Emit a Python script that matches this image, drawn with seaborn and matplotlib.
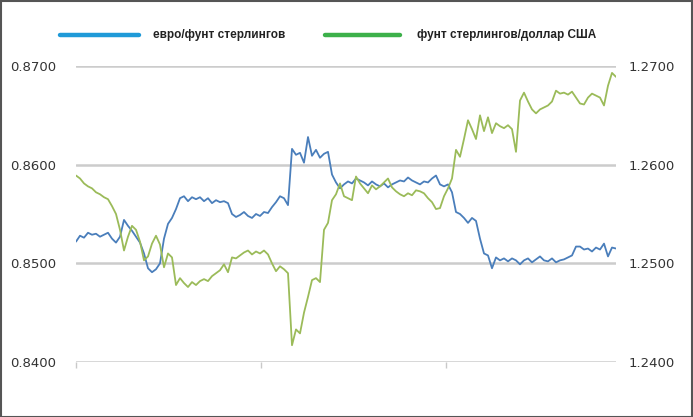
import numpy as np
import pandas as pd
import matplotlib
matplotlib.use("Agg")
import matplotlib.pyplot as plt
from matplotlib.lines import Line2D
from matplotlib.patches import Rectangle
import seaborn as sns

series_names = ["евро/фунт стерлингов", "фунт стерлингов/доллар США"]

eur_gbp = [
    0.8522, 0.8528, 0.8526, 0.8531, 0.8529, 0.8530, 0.8527, 0.8529, 0.8531, 0.8525,
    0.8521, 0.8527, 0.8544, 0.8538, 0.8533, 0.8527, 0.8521, 0.8510, 0.8495, 0.8491,
    0.8494, 0.8500, 0.8525, 0.8540, 0.8546, 0.8555, 0.8566, 0.8568, 0.8563, 0.8567,
    0.8565, 0.8567, 0.8563, 0.8566, 0.8561, 0.8564, 0.8562, 0.8563, 0.8561, 0.8550,
    0.8547, 0.8549, 0.8552, 0.8548, 0.8546, 0.8550, 0.8548, 0.8552, 0.8551, 0.8557,
    0.8562, 0.8568, 0.8566, 0.8559, 0.8616, 0.8610, 0.8612, 0.8602, 0.8628, 0.8609,
    0.8615, 0.8607, 0.8611, 0.8613, 0.8590, 0.8582, 0.8576, 0.8580, 0.8583, 0.8581,
    0.8586, 0.8584, 0.8582, 0.8579, 0.8583, 0.8580, 0.8578, 0.8581, 0.8577, 0.8580,
    0.8582, 0.8584, 0.8583, 0.8587, 0.8584, 0.8582, 0.8580, 0.8583, 0.8582, 0.8586,
    0.8589, 0.8580, 0.8578, 0.8580, 0.8572, 0.8552, 0.8550, 0.8546, 0.8541, 0.8546,
    0.8543, 0.8525, 0.8510, 0.8508, 0.8495, 0.8506, 0.8503, 0.8505, 0.8502, 0.8505,
    0.8503, 0.8499, 0.8503, 0.8505, 0.8501, 0.8504, 0.8507, 0.8503, 0.8502, 0.8505,
    0.8501, 0.8503, 0.8504, 0.8506, 0.8508, 0.8517, 0.8517, 0.8514, 0.8515, 0.8512,
    0.8516, 0.8514, 0.8520, 0.8507, 0.8516, 0.8515,
]

gbp_usd = [
    1.2589, 1.2586, 1.2581, 1.2578, 1.2576, 1.2572, 1.2570, 1.2567, 1.2565, 1.2558,
    1.2550, 1.2534, 1.2513, 1.2527, 1.2538, 1.2534, 1.2522, 1.2503, 1.2507, 1.2520,
    1.2528, 1.2519, 1.2496, 1.2510, 1.2506, 1.2478, 1.2485, 1.2480, 1.2476, 1.2481,
    1.2478, 1.2482, 1.2484, 1.2482, 1.2487, 1.2490, 1.2493, 1.2499, 1.2491, 1.2506,
    1.2505, 1.2508, 1.2511, 1.2513, 1.2509, 1.2512, 1.2510, 1.2513, 1.2509, 1.2500,
    1.2492, 1.2497, 1.2494, 1.2490, 1.2417, 1.2433, 1.2429, 1.2450, 1.2466, 1.2483,
    1.2485, 1.2481, 1.2534, 1.2541, 1.2564, 1.2570, 1.2581, 1.2568, 1.2566, 1.2564,
    1.2588, 1.2581, 1.2576, 1.2571, 1.2579, 1.2575, 1.2578, 1.2582, 1.2586, 1.2577,
    1.2573, 1.2570, 1.2568, 1.2571, 1.2569, 1.2574, 1.2573, 1.2571, 1.2566, 1.2562,
    1.2555, 1.2556, 1.2568, 1.2576, 1.2586, 1.2615, 1.2608, 1.2626, 1.2645, 1.2636,
    1.2626, 1.2650, 1.2634, 1.2648, 1.2632, 1.2642, 1.2639, 1.2637, 1.2640, 1.2636,
    1.2613, 1.2665, 1.2673, 1.2664, 1.2656, 1.2652, 1.2656, 1.2658, 1.2660, 1.2664,
    1.2675, 1.2672, 1.2673, 1.2671, 1.2674, 1.2668, 1.2662, 1.2661, 1.2668, 1.2672,
    1.2670, 1.2668, 1.2660, 1.2680, 1.2693, 1.2689,
]

left_ticks = [0.8400, 0.8500, 0.8600, 0.8700]
right_ticks = [1.2400, 1.2500, 1.2600, 1.2700]

sns.set_theme(style="white")
plt.rcParams["font.family"] = ["DejaVu Sans"]

W, H = 693, 417
fig = plt.figure(figsize=(W / 100, H / 100), dpi=100)
fig.patch.set_facecolor("white")
ax = fig.add_axes([76 / W, 1 - 362 / H, (616 - 76) / W, (362 - 66) / H])
ax2 = ax.twinx()

df1 = pd.DataFrame({"t": np.arange(len(eur_gbp)), "v": eur_gbp})
df2 = pd.DataFrame({"t": np.arange(len(gbp_usd)), "v": gbp_usd})

sns.lineplot(data=df1, x="t", y="v", ax=ax, color="#4a7ebb", linewidth=1.3)
sns.lineplot(data=df2, x="t", y="v", ax=ax2, color="#9bbb59", linewidth=1.3)

n = max(len(eur_gbp), len(gbp_usd)) - 1
for a in (ax, ax2):
    a.set_xlim(0, n)
    for s in a.spines.values():
        s.set_visible(False)
    a.set_xlabel("")
    a.set_ylabel("")
    a.patch.set_alpha(0)

ax.set_ylim(0.84, 0.87)
ax2.set_ylim(1.24, 1.27)
ax.set_yticks(left_ticks)
ax.set_yticklabels([f"{v:.4f}" for v in left_ticks])
ax2.set_yticks(right_ticks)
ax2.set_yticklabels([f"{v:.4f}" for v in right_ticks])

ax.yaxis.grid(True, color="#cccccc", linewidth=1.8)
ax.xaxis.grid(False)
ax2.grid(False)
ax.set_axisbelow(True)

ax.tick_params(axis="y", length=0, pad=14, labelsize=9.5, labelcolor="#333333")
ax2.tick_params(axis="y", length=0, pad=9, labelsize=9.5, labelcolor="#333333")
ax.set_xticks([0, n * 0.3426, n * 0.685])
ax.set_xticklabels([])
ax.tick_params(axis="x", length=4, width=1, color="#c9c9c9", direction="out", bottom=True)
ax2.tick_params(axis="x", bottom=False, labelbottom=False)

# legend
ly = 1 - 35 / H
fig.add_artist(Line2D([60 / W, 139 / W], [ly, ly], color="#1f9ad8", linewidth=3.2,
                      solid_capstyle="round", transform=fig.transFigure))
fig.add_artist(Line2D([325 / W, 400 / W], [ly, ly], color="#3cb04a", linewidth=3.2,
                      solid_capstyle="round", transform=fig.transFigure))
lfam = ["Liberation Sans", "DejaVu Sans"]
fig.text(153 / W, ly, series_names[0], fontsize=8.5, fontweight="bold",
         family=lfam, va="center", ha="left", color="#222222")
fig.text(417 / W, ly, series_names[1], fontsize=8.5, fontweight="bold",
         family=lfam, va="center", ha="left", color="#222222")

# outer frame
fig.add_artist(Rectangle((0.5 / W, 0.5 / H), 1 - 1.5 / W, 1 - 1.5 / H, fill=False,
                         edgecolor="#555555", linewidth=1.5, transform=fig.transFigure))

fig.savefig("out.png", dpi=100, facecolor="white")
